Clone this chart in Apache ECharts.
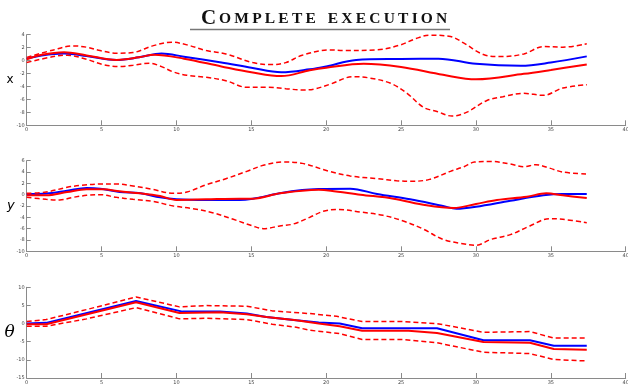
<!DOCTYPE html>
<html>
<head>
<meta charset="utf-8">
<script src="https://cdn.jsdelivr.net/npm/echarts@6/dist/echarts.min.js"></script>
<style>html,body{margin:0;padding:0;background:#fff}#c{width:628px;height:385px}</style>
</head>
<body>
<div id="c"></div>
<script>
// ---- data (time, value) ----
var titleText = 'Complete execution';
var xTicks = [0, 5, 10, 15, 20, 25, 30, 35, 40];

var xTrue = [[0,0.3],[1,0.8],[2.5,1.1],[4,0.7],[6,0.1],[7.5,0.5],[9,1.1],[10.5,0.6],[13,-0.3],[15,-1.1],[17,-1.8],[18.9,-1.35],[20,-0.9],[22,0.1],[25,0.25],[27.5,0.3],[30,-0.5],[33,-0.8],[35,-0.3],[37.4,0.65]];
var xEst = [[0,0.2],[1,0.9],[2.5,1.3],[4,0.8],[6,0.1],[7.5,0.5],[8.5,0.9],[10.5,0.3],[13,-0.9],[15,-1.8],[17,-2.4],[18.9,-1.5],[20,-1.1],[22.5,-0.5],[25,-1.0],[27.8,-2.2],[30,-2.9],[33.2,-2.05],[35,-1.45],[37.4,-0.6]];
var xUpper = [[0,0.5],[1.8,1.65],[3.1,2.27],[4,2.07],[4.9,1.55],[6,1.14],[7.1,1.24],[8.4,2.27],[9.7,2.84],[10.7,2.43],[12,1.55],[13.3,1.03],[15.1,-0.31],[16.4,-0.62],[17.3,-0.31],[18.4,0.83],[20.2,1.65],[21.2,1.55],[23.4,1.65],[24.9,2.38],[26,3.4],[26.9,3.93],[28.3,3.72],[29.2,2.69],[30.5,0.93],[31.6,0.62],[33.2,1.03],[34.5,2.17],[35.8,2.07],[37.4,2.6]];
var xLower = [[0,-0.3],[1.8,0.62],[2.7,0.83],[4,0.2],[5.1,-0.62],[6.2,-0.93],[7.1,-0.72],[8.2,-0.41],[8.9,-0.83],[9.8,-1.76],[10.7,-2.27],[12,-2.58],[13.3,-3.1],[14.7,-4.13],[16,-4.13],[17.3,-4.34],[18.4,-4.55],[19.2,-4.4],[20.3,-3.62],[21.8,-2.48],[22.9,-2.69],[24.3,-3.51],[25.4,-5.06],[26.5,-7.24],[27.4,-7.86],[28.4,-8.58],[29.4,-7.96],[30.7,-6.2],[31.8,-5.58],[33.2,-5.06],[34.5,-5.37],[35.8,-4.24],[37.4,-3.72]];

var yTrue = [[0,0.1],[1.3,0.2],[2.7,0.7],[4,1.18],[4.9,1.06],[6.2,0.47],[7.6,0.24],[8.9,-0.47],[10,-0.82],[12,-0.94],[14.2,-0.94],[15.1,-0.7],[16.9,0.24],[18.4,0.82],[19.5,1.0],[21.6,1.06],[23.4,0.12],[25.6,-0.82],[27.8,-2.0],[28.7,-2.47],[30,-2.12],[32.3,-1.06],[34.5,-0.12],[35.8,0.12],[37.4,0.12]];
var yEst = [[0,-0.1],[1.3,-0.1],[2.7,0.47],[4,0.94],[5.1,0.94],[6.2,0.6],[7.6,0.24],[8.9,-0.24],[10,-0.94],[12,-0.82],[14.2,-0.7],[15.1,-0.7],[16.9,0.24],[18.4,0.7],[19.5,0.85],[20.3,0.7],[22.3,0],[24.5,-0.7],[26.7,-1.88],[28.5,-2.35],[30,-1.65],[31.4,-0.94],[33.4,-0.35],[34.7,0.24],[35.8,-0.12],[37.4,-0.6]];
var yUpper = [[0,0.24],[1.3,0.47],[2.7,1.3],[3.6,1.65],[4.9,1.88],[6,1.88],[7.1,1.53],[8.4,0.94],[9.8,0.24],[10.7,0.47],[12,1.76],[13.3,2.82],[14.7,4.12],[15.8,5.18],[17.1,5.76],[18.4,5.53],[20.2,4.12],[21.6,3.3],[23.4,2.82],[24.7,2.47],[25.6,2.35],[26.9,2.7],[28.3,4.12],[29.2,4.94],[29.9,5.76],[31,5.88],[32.3,5.41],[33.2,4.94],[34,5.3],[34.9,4.7],[35.8,4.0],[37.4,3.65]];
var yLower = [[0,-0.47],[1.3,-0.82],[2.2,-0.94],[3.1,-0.47],[4,-0.12],[4.9,0],[6,-0.47],[7.1,-0.82],[8.4,-1.18],[9.8,-2],[11.1,-2.47],[12.4,-3.18],[13.8,-4.35],[15.1,-5.53],[15.8,-6.0],[16.9,-5.53],[17.8,-5.18],[18.9,-4.0],[19.8,-2.94],[20.7,-2.6],[22.3,-3.06],[23.8,-3.65],[25.2,-4.7],[26.5,-6.1],[27.8,-7.9],[29,-8.6],[30,-8.94],[31,-7.9],[32.3,-7.06],[33.6,-5.53],[34.9,-4.24],[35.8,-4.35],[37.4,-4.94]];

var thTrue = [[0,0],[1.3,0.2],[7.3,6.25],[10.4,3.3],[12.9,3.3],[14.7,2.75],[16,1.84],[18,0.92],[19.5,0.3],[20.9,0],[22.4,-1.3],[27.4,-1.3],[30.5,-4.6],[33.6,-4.6],[35.2,-6.1],[37.4,-6.1]];
var thEst = [[0,-0.2],[1.3,-0.2],[7.3,5.9],[10.2,2.9],[12.9,3.1],[14.7,2.6],[16,1.8],[18,0.9],[19.5,0],[20.9,-0.74],[22.4,-2.0],[25.5,-2.0],[27.4,-2.6],[30.5,-5.1],[33.6,-5.3],[35.2,-7.0],[37.4,-7.2]];
var thUpper = [[0,0.55],[1.3,1.1],[4,3.86],[7.3,7.35],[10.2,4.6],[12,4.96],[14.7,4.78],[16.4,3.5],[18.9,2.76],[20.7,2.0],[22.4,0.55],[25.1,0.55],[27.4,0],[30.5,-2.4],[33.6,-2.2],[35.2,-4.0],[37.4,-4.0]];
var thLower = [[0,-0.74],[1.3,-0.74],[4,1.3],[7.3,4.4],[10.2,1.3],[12,1.47],[14.7,1.1],[16.4,-0.18],[18,-1.0],[18.9,-1.84],[20.9,-2.76],[22.4,-4.4],[25.1,-4.4],[27.4,-5.3],[30.5,-7.9],[33.6,-8.27],[35.2,-9.9],[37.4,-10.3]];

var panels = [
  {name: 'x', min: -10, max: 4, step: 2, smooth: 0.35, data: [xTrue, xEst, xUpper, xLower], top: 34.7, height: 90.6,
   nameStyle: {fontFamily: 'DejaVu Sans', fontSize: 12, color: '#000'}, gap: 13},
  {name: 'y', min: -10, max: 6, step: 2, smooth: 0.35, data: [yTrue, yEst, yUpper, yLower], top: 160.7, height: 90.6,
   nameStyle: {fontFamily: 'DejaVu Sans', fontStyle: 'italic', fontSize: 13, color: '#000'}, gap: 12},
  {name: 'θ', min: -15, max: 10, step: 5, smooth: false, data: [thTrue, thEst, thUpper, thLower], top: 287.3, height: 90.7,
   nameStyle: {fontFamily: 'DejaVu Serif', fontStyle: 'italic', fontSize: 17, color: '#000'}, gap: 12}
];

var axisGray = '#8a8a8a';
var grids = [], xAxes = [], yAxes = [], series = [];
panels.forEach(function (p, i) {
  grids.push({left: 26.7, right: 2.3, top: p.top, height: p.height, outerBoundsMode: 'none', containLabel: false});
  xAxes.push({
    type: 'value', gridIndex: i, min: 0, max: 40, interval: 5,
    axisLine: {show: true, onZero: false, lineStyle: {color: axisGray, width: 1}},
    axisTick: {show: true, inside: true, length: 5, lineStyle: {color: axisGray}},
    axisLabel: {fontSize: 5, color: '#444', margin: 2, fontFamily: 'DejaVu Sans'},
    splitLine: {show: false}
  });
  yAxes.push({
    type: 'value', gridIndex: i, min: p.min, max: p.max, interval: p.step,
    name: p.name, nameLocation: 'middle', nameRotate: 0, nameGap: p.gap,
    nameMoveOverlap: false,
    nameTextStyle: p.nameStyle,
    axisLine: {show: true, onZero: false, lineStyle: {color: axisGray, width: 1}},
    axisTick: {show: true, inside: true, length: 4, lineStyle: {color: axisGray}},
    axisLabel: {fontSize: 5, color: '#444', margin: 2, fontFamily: 'DejaVu Sans'},
    splitLine: {show: false}
  });
  var styles = [
    {color: '#0000ff', width: 2, type: 'solid'},
    {color: '#ff0000', width: 2, type: 'solid'},
    {color: '#ff0000', width: 1.5, type: [5, 3]},
    {color: '#ff0000', width: 1.5, type: [5, 3]}
  ];
  p.data.forEach(function (d, k) {
    series.push({
      type: 'line', xAxisIndex: i, yAxisIndex: i, data: d,
      smooth: p.smooth, showSymbol: false, symbol: 'none', silent: true,
      lineStyle: styles[k], z: k === 0 ? 2 : 3
    });
  });
});

// small-caps title: first letter large, remaining letters as spaced small capitals
var up = titleText.toUpperCase();
var richStr = '{a|' + up.charAt(0) + '}';
for (var c = 1; c < up.length; c++) {
  richStr += up.charAt(c) === ' ' ? '{s| }' : '{b|' + up.charAt(c) + '}';
}

var chart = echarts.init(document.getElementById('c'), null, {renderer: 'canvas'});
chart.setOption({
  animation: false,
  backgroundColor: '#fff',
  title: {
    text: richStr,
    left: 320, top: 3, textAlign: 'center',
    textStyle: {
      rich: {
        a: {fontFamily: 'Liberation Serif', fontSize: 21, color: '#111', padding: [0, 1.2, 0, 0]},
        b: {fontFamily: 'Liberation Serif', fontSize: 15.5, color: '#111', padding: [0, 1.6, 0, 1.6]},
        s: {fontFamily: 'Liberation Serif', fontSize: 15.5, color: '#111', padding: [0, 2.5, 0, 2.5]}
      }
    }
  },
  graphic: [{
    type: 'line', shape: {x1: 190, y1: 29.5, x2: 450, y2: 29.5},
    style: {stroke: '#777', lineWidth: 1.5}, silent: true
  }],
  grid: grids, xAxis: xAxes, yAxis: yAxes, series: series
});
</script>
</body>
</html>
